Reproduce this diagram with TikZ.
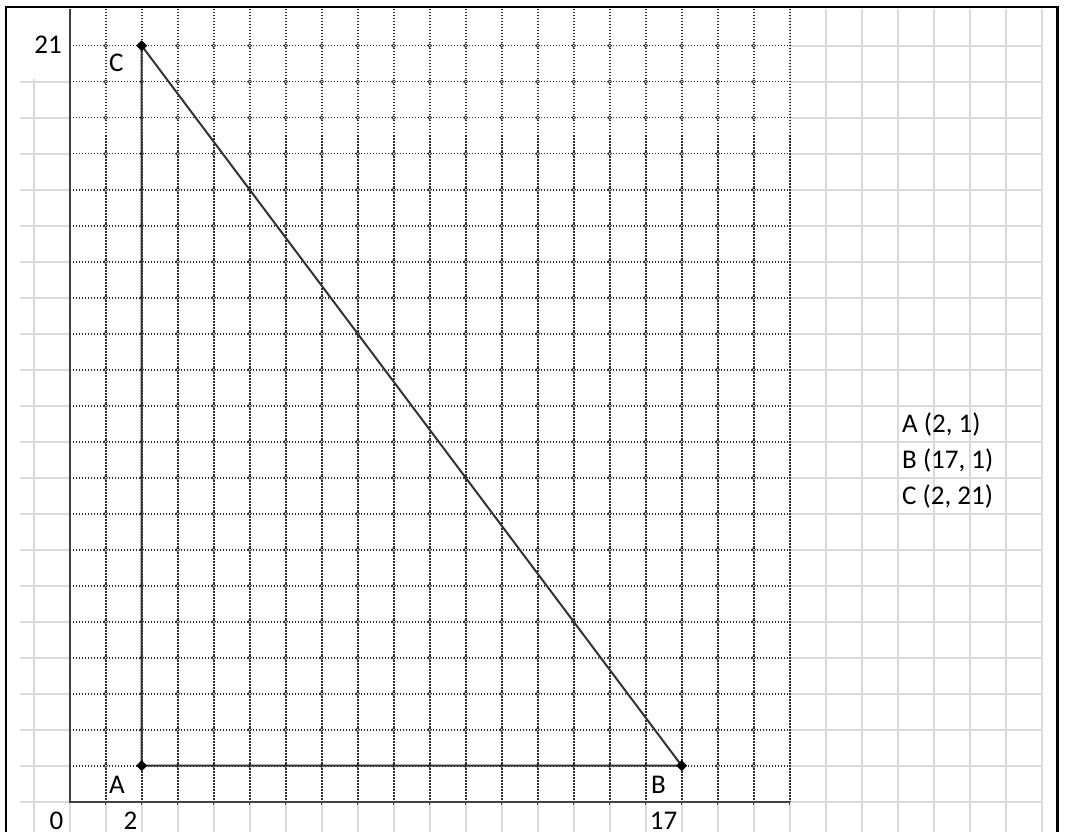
\documentclass[tikz,border=0pt]{standalone}
\usepackage{fontspec}
\setmainfont{Carlito}
\usetikzlibrary{shapes.geometric}
\definecolor{cellgray}{RGB}{218,218,218}
\definecolor{axisgray}{RGB}{64,64,64}
\definecolor{dotgray}{RGB}{45,45,45}
\begin{document}
\begin{tikzpicture}[x=1pt,y=-1pt,
  cellline/.style={draw=cellgray,line width=1.8pt},
  axisline/.style={draw=axisgray,line width=2pt},
  dotline/.style={draw=dotgray,line width=1.6pt,dash pattern=on 1.5pt off 1.5pt},
  triline/.style={draw=black!80,line width=2pt},
  vmark/.style={diamond,fill=black,inner sep=0pt,minimum size=11pt},
  lbl/.style={inner sep=0pt,font=\fontsize{27}{32}\selectfont},
  ring/.style={draw=dotgray,fill=white,line width=0.8pt}]
\useasboundingbox (0,0) rectangle (1079,832);
\fill[white] (0,0) rectangle (1079,832);
% spreadsheet cell grid
\foreach \k in {0,...,28}{
  \draw[cellline] (33.7+36*\k,9) -- (33.7+36*\k,832);
}
\foreach \k in {-1,...,21}{
  \draw[cellline] (20,801.7-36*\k) -- (1041.7,801.7-36*\k);
}
% blank areas
\fill[white] (69.7,9) rectangle (789.7,801.7);
\fill[white] (4,4) rectangle (68.7,79);
\fill[white] (4,4) rectangle (19,832);
\fill[white] (1042.7,4) rectangle (1079,832);
\fill[white] (4,0) rectangle (1079,9);
% dotted gridlines
\foreach \i in {1,...,20}{
  \draw[dotline] (69.7+36*\i,9) -- (69.7+36*\i,801.7);
}
\foreach \j in {1,...,21}{
  \draw[dotline] (69.7,801.7-36*\j) -- (789.7,801.7-36*\j);
}
\foreach \i in {1,...,19}{
  \foreach \j in {1,...,21}{
    \draw[ring] (69.7+36*\i,801.7-36*\j) circle (1.7pt);
  }
}
% axes
\coordinate (O) at (69.7,801.7);
\coordinate (Ytop) at (69.7,9);
\coordinate (Xend) at (789.7,801.7);
\draw[axisline] (Ytop) -- (O) -- (Xend);
\foreach \i in {1,...,20}{
  \draw[draw=axisgray,line width=1.5pt] (69.7+36*\i,801.7) -- (69.7+36*\i,805);
}
% triangle
\coordinate (A) at (141.7,765.7);
\coordinate (B) at (681.7,765.7);
\coordinate (C) at (141.7,45.7);
\draw[triline] (A) -- (B) -- (C) -- cycle;
\draw[dotline] (A) -- (B);
\node[vmark] (mA) at (A) {};
\node[vmark] (mB) at (B) {};
\node[vmark] (mC) at (C) {};
% labels
\node[lbl,anchor=base east] (l21) at (62,53.5) {21};
\node[lbl,anchor=base west] (lC) at (109,72) {C};
\node[lbl,anchor=base west] (lA) at (109,793) {A};
\node[lbl,anchor=base west] (lB) at (651,793) {B};
\node[lbl,anchor=base east] (l0) at (63.5,829.5) {0};
\node[lbl,anchor=base east] (l2) at (137.5,829.5) {2};
\node[lbl,anchor=base east] (l17) at (677.5,829.5) {17};
\node[lbl,anchor=base west] (tA) at (902,432) {A (2, 1)};
\node[lbl,anchor=base west] (tB) at (902,468.5) {B (17, 1)};
\node[lbl,anchor=base west] (tC) at (902,504) {C (2, 21)};
% frame
\draw[black,line width=2.6pt] (6,834) -- (6,7) -- (1057.5,7) -- (1057.5,834);
\end{tikzpicture}
\end{document}
